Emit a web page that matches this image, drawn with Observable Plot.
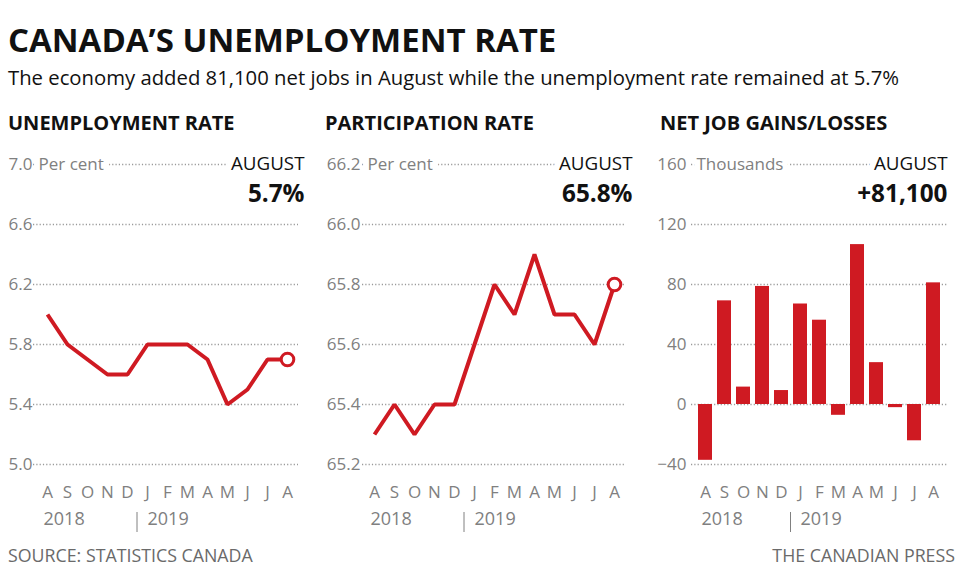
<!DOCTYPE html>
<html><head><meta charset="utf-8">
<script src="https://cdn.jsdelivr.net/npm/d3@7"></script>
<script src="https://cdn.jsdelivr.net/npm/@observablehq/plot@0.6"></script>
<style>
html,body{margin:0;padding:0;background:#fff;}
#root{position:relative;width:960px;height:575px;overflow:hidden;font-family:"Open Sans",sans-serif;}
.t{position:absolute;white-space:nowrap;line-height:1;}
.panel{position:absolute;top:140px;}
</style></head><body><div id="root"></div>
<script>
// ---- data ----
const months = ["2018-08","2018-09","2018-10","2018-11","2018-12","2019-01","2019-02","2019-03","2019-04","2019-05","2019-06","2019-07","2019-08"];
const monthLetters = ["A","S","O","N","D","J","F","M","A","M","J","J","A"];
const unemployment = [6.0,5.8,5.7,5.6,5.6,5.8,5.8,5.8,5.7,5.4,5.5,5.7,5.7];
const participation = [65.3,65.4,65.3,65.4,65.4,65.6,65.8,65.7,65.9,65.7,65.7,65.6,65.8];
const netJobs = [-37.2,69.1,11.6,78.7,9.3,67.0,56.2,-7.2,106.6,27.9,-2.1,-24.2,81.1];
const unemploymentTicks = [5.0,5.4,5.8,6.2,6.6,7.0];
const participationTicks = [65.2,65.4,65.6,65.8,66.0,66.2];
const netJobsTicks = [-40,0,40,80,120,160];
const yearLabels2018 = [{month:"2018-08", label:"2018"}];
const yearLabels2019 = [{month:"2019-01", label:"2019"}];
const latestMonth = "AUGUST";

const title = "CANADA\u2019S UNEMPLOYMENT RATE";
const subtitle = "The economy added 81,100 net jobs in August while the unemployment rate remained at 5.7%";
const source = "SOURCE: STATISTICS CANADA";
const credit = "THE CANADIAN PRESS";

const RED = "#cf1a22";
const GREY = "#808080";
const letterByMonth = new Map(months.map((m,i)=>[m, monthLetters[i]]));

const root = document.getElementById("root");
function addText(txt, style){
  const d = document.createElement("div");
  d.className = "t"; d.textContent = txt;
  Object.assign(d.style, style);
  root.appendChild(d);
}
addText(title, {left:"8px", top:"22.7px", fontSize:"33px", fontWeight:"700", color:"#111"});
addText(subtitle, {left:"8px", top:"67px", fontSize:"20.3px", color:"#111"});
addText(source, {left:"8px", top:"547.3px", fontSize:"17.8px", color:"#6a6a6a"});
addText(credit, {right:"5px", top:"547.3px", fontSize:"17.8px", color:"#6a6a6a"});

function separator(index, scales, values, dims){
  const x = scales.x;
  let bw = 0;
  if (typeof x.bandwidth === "function") bw = x.bandwidth();
  else if (scales.scales && scales.scales.x && typeof scales.scales.x.bandwidth === "number") bw = scales.scales.x.bandwidth;
  const xm = (x("2018-12") + x("2019-01")) / 2 + bw / 2;
  const yb = dims.height - dims.marginBottom;
  const ln = document.createElementNS("http://www.w3.org/2000/svg","line");
  ln.setAttribute("x1", xm); ln.setAttribute("x2", xm);
  ln.setAttribute("y1", yb + 48); ln.setAttribute("y2", yb + 68);
  ln.setAttribute("stroke", GREY); ln.setAttribute("stroke-width", 1);
  return ln;
}

function panel(cfg){
  const data = months.map((m,i)=>({month:m, value:cfg.values[i]}));
  const last = [data[data.length-1]];
  const marks = [
    Plot.ruleY(cfg.ticks, {stroke:"#9a9a9a", strokeWidth:1.3, strokeDasharray:"1.2,2.1"})
  ];
  if (cfg.kind === "bar") {
    marks.push(Plot.barY(data, {x:"month", y:"value", fill:RED}));
  } else {
    marks.push(Plot.line(data, {x:"month", y:"value", stroke:RED, strokeWidth:4, strokeLinejoin:"miter", strokeLinecap:"butt"}));
    marks.push(Plot.dot(last, {x:"month", y:"value", r:6.3, fill:"white", stroke:RED, strokeWidth:3}));
  }
  marks.push(Plot.text([cfg.unit], {text:d=>d, frameAnchor:"top-left", textAnchor:"start", lineAnchor:"middle", dx:5, fill:GREY, fontSize:17, stroke:"white", strokeWidth:12, strokeLinejoin:"round"}));
  marks.push(Plot.text([latestMonth], {text:d=>d, frameAnchor:"top-right", textAnchor:"end", lineAnchor:"middle", dx:cfg.labelDx, dy:-0.5, fill:"#111", fontSize:18.8, stroke:"white", strokeWidth:12, strokeLinejoin:"round"}));
  marks.push(Plot.text([cfg.latest], {text:d=>d, frameAnchor:"top-right", textAnchor:"end", lineAnchor:"middle", dx:cfg.labelDx, dy:29.5, fill:"#111", fontSize:24.3, fontWeight:"bold"}));
  marks.push(Plot.text(yearLabels2018, {x:"month", text:"label", frameAnchor:"bottom", textAnchor:"start", lineAnchor:"middle", dx:-4, dy:55, fill:GREY, fontSize:18}));
  marks.push(Plot.text(yearLabels2019, {x:"month", text:"label", frameAnchor:"bottom", textAnchor:"start", lineAnchor:"middle", dx:0, dy:55, fill:GREY, fontSize:18}));
  marks.push(separator);

  const xScale = cfg.kind === "bar"
    ? {type:"band", domain:months, paddingInner:0.25, paddingOuter:0.1}
    : {type:"point", domain:months, padding:0, insetLeft:cfg.insetLeft, insetRight:cfg.insetRight};
  Object.assign(xScale, {tickFormat:d=>letterByMonth.get(d), tickSize:0, tickPadding:21, label:null});

  const svg = Plot.plot({
    width:320, height:400,
    marginTop:24, marginBottom:76, marginLeft:cfg.marginLeft, marginRight:cfg.marginRight,
    style:{fontFamily:"Open Sans", fontSize:"17px", color:GREY, background:"transparent", overflow:"visible"},
    x:xScale,
    y:{domain:cfg.domain, nice:false, ticks:cfg.ticks, tickSize:0, tickPadding:cfg.tickPadding, tickFormat:cfg.tickFormat, label:null},
    marks
  });
  const wrap = document.createElement("div");
  wrap.className = "panel";
  wrap.style.left = cfg.left + "px";
  wrap.appendChild(svg);
  root.appendChild(wrap);
  addText(cfg.title, {left:cfg.titleLeft + "px", top:"113.2px", fontSize:"20px", fontWeight:"700", color:"#111"});
}

panel({title:"UNEMPLOYMENT RATE", titleLeft:8, left:0, kind:"line", values:unemployment, ticks:unemploymentTicks,
  domain:[5.0,7.0], tickFormat:d3.format(".1f"), unit:"Per cent", latest:"5.7%",
  marginLeft:33, marginRight:22, insetLeft:13.5, insetRight:11, tickPadding:1, labelDx:6});
panel({title:"PARTICIPATION RATE", titleLeft:325, left:320, kind:"line", values:participation, ticks:participationTicks,
  domain:[65.2,66.2], tickFormat:d3.format(".1f"), unit:"Per cent", latest:"65.8%",
  marginLeft:42, marginRight:15, insetLeft:11, insetRight:10, tickPadding:2, labelDx:7});
panel({title:"NET JOB GAINS/LOSSES", titleLeft:660, left:640, kind:"bar", values:netJobs, ticks:netJobsTicks,
  domain:[-40,160], tickFormat:d3.format("d"), unit:"Thousands", latest:"+81,100",
  marginLeft:51, marginRight:12, tickPadding:5, labelDx:-1});
</script></body></html>
